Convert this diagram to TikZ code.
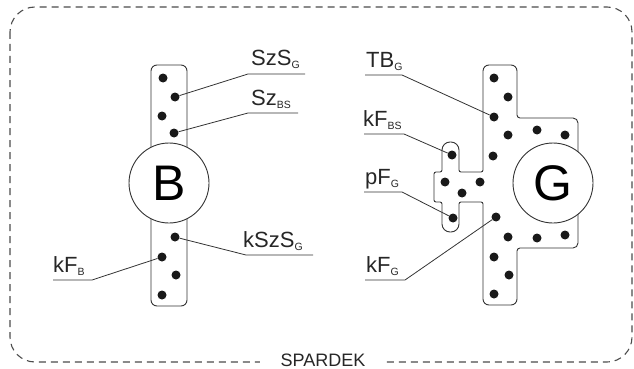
\documentclass[tikz,border=0pt]{standalone}
\usepackage{fontspec}
\setmainfont{Liberation Sans}
\newcommand\lsub[1]{\raisebox{-3pt}{\fontsize{10.5}{10.5}\selectfont #1}}
\begin{document}
\begin{tikzpicture}[x=1pt,y=-1pt,
  outline/.style={draw=black!80,line width=0.9pt},
  dot/.style={circle,fill=black!90,inner sep=0pt,minimum size=9pt},
  lbl/.style={inner sep=0pt,anchor=base west,text=black!85,font=\fontsize{22}{22}\selectfont},
  leader/.style={draw=black!80,line width=0.8pt},
  bigletter/.style={circle,draw=black!80,line width=0.9pt,fill=white,minimum size=80pt,inner sep=0pt,font=\fontsize{50}{50}\selectfont},
  border/.style={draw=black!70,line width=1.1pt,dash pattern=on 7pt off 5pt,rounded corners=25pt}]
\useasboundingbox (0,0) rectangle (634,369);
% outer dashed border
\draw[border] (10,7) rectangle (632,362);
\node[fill=white,inner xsep=21pt,inner ysep=1pt,anchor=base,text=black!85,font=\fontsize{18}{18}\selectfont] (spardek) at (323,366) {SPARDEK};

% ---- B side ----
\draw[outline,rounded corners=6pt] (151,65) rectangle (187,306);
\node[bigletter] (B) at (169,183) {B};
\foreach \n/\x/\y in {b1/163/78,b2/175/97,b3/162/116,b4/174/133,b5/175/237,b6/162/257,b7/176/275,b8/162/295}
  \node[dot] (\n) at (\x,\y) {};

% ---- G side ----
\draw[outline] (483,72) [rounded corners=6pt] -- (483,65) -- (517,65) [rounded corners=3pt] -- (517,118)
  [rounded corners=5pt] -- (578,118) -- (578,248) [rounded corners=3pt] -- (517,248)
  [rounded corners=6pt] -- (517,305) -- (483,305) [rounded corners=2pt] -- (483,202) -- (459,202)
  [rounded corners=8pt] -- (459,232) -- (442,232) [rounded corners=2pt] -- (442,202) -- (434,202)
  -- (434,172) -- (442,172) [rounded corners=8pt] -- (442,142) -- (459,142) [rounded corners=2pt]
  -- (459,172) -- (483,172) [sharp corners] -- (483,72);
\node[bigletter] (G) at (553,183) {G};
\foreach \n/\x/\y in {g1/494/78,g2/508/97,g3/494/117,g4/508/135,g5/537/130,g6/565/135,g7/493/156,
  g8/480/182,g9/445/182,g10/462/193,g11/452/155,g12/453/218,g13/496/217,g14/508/237,g15/537/238,
  g16/565/235,g17/494/257,g18/509/275,g19/494/294}
  \node[dot] (\n) at (\x,\y) {};

% ---- labels B side ----
\node[lbl] (lSzSG) at (251,66) {SzS\lsub{G}};
\coordinate (u1a) at (248,74); \coordinate (u1b) at (305,74);
\draw[leader] (b2) -- (u1a) -- (u1b);

\node[lbl] (lSzBS) at (251,105) {Sz\lsub{BS}};
\coordinate (u2a) at (248,113); \coordinate (u2b) at (298,113);
\draw[leader] (b4) -- (u2a) -- (u2b);

\node[lbl] (lkSzSG) at (243,247) {kSzS\lsub{G}};
\coordinate (u3a) at (246,255); \coordinate (u3b) at (313,255);
\draw[leader] (b5) -- (u3a) -- (u3b);

\node[lbl] (lkFB) at (53,272) {kF\lsub{B}};
\coordinate (u4a) at (92,280); \coordinate (u4b) at (53,280);
\draw[leader] (b6) -- (u4a) -- (u4b);

% ---- labels G side ----
\node[lbl] (lTBG) at (366,67) {TB\lsub{G}};
\coordinate (u5a) at (402,75); \coordinate (u5b) at (365,75);
\draw[leader] (g3) -- (u5a) -- (u5b);

\node[lbl] (lkFBS) at (363,126) {kF\lsub{BS}};
\coordinate (u6a) at (404,134); \coordinate (u6b) at (364,134);
\draw[leader] (g11) -- (u6a) -- (u6b);

\node[lbl] (lpFG) at (365,184) {pF\lsub{G}};
\coordinate (u7a) at (402,192); \coordinate (u7b) at (364,192);
\draw[leader] (g12) -- (u7a) -- (u7b);

\node[lbl] (lkFG) at (366,272) {kF\lsub{G}};
\coordinate (u8a) at (405,280); \coordinate (u8b) at (365,280);
\draw[leader] (g13) -- (u8a) -- (u8b);
\end{tikzpicture}
\end{document}
